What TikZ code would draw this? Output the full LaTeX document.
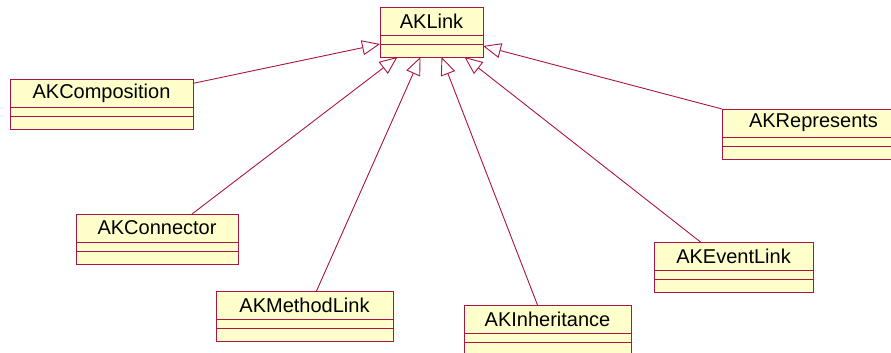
\documentclass[tikz,border=0pt]{standalone}
\usepackage{fontspec}
\setmainfont{Liberation Sans}
\usetikzlibrary{positioning,arrows.meta}
\definecolor{akred}{RGB}{170,20,70}
\definecolor{akfill}{RGB}{255,255,204}
\tikzset{
  cls/.style={draw=akred, fill=akfill, line width=0.9pt, inner sep=0pt, outer sep=0pt,
    anchor=north west, minimum height=28pt, font=\fontsize{20}{24}\selectfont},
  attr/.style={draw=akred, fill=akfill, line width=0.9pt, inner sep=0pt, outer sep=0pt,
    minimum height=9pt},
  ops/.style={attr, minimum height=13pt},
  inh/.style={draw=akred, line width=0.9pt, -{Triangle[open, length=18pt, width=15pt]}}
}
\begin{document}
\begin{tikzpicture}[x=1pt, y=-1pt]
\useasboundingbox (0,0) rectangle (891,353);
\clip (0,0) rectangle (891,353);
% base class
\node[cls, minimum width=103pt] (linkname) at (380,7) {AKLink};
\node[attr, minimum width=103pt, below=0pt of linkname] (linkattr) {};
\node[ops, minimum width=103pt, below=0pt of linkattr] (linkops) {};
% sub classes
\node[cls, minimum width=183pt] (compname) at (10,79) {AKComposition};
\node[attr, minimum width=183pt, below=0pt of compname] (compattr) {};
\node[ops, minimum width=183pt, below=0pt of compattr] (compops) {};
\node[cls, minimum width=162pt] (connname) at (76,214) {AKConnector};
\node[attr, minimum width=162pt, below=0pt of connname] (connattr) {};
\node[ops, minimum width=162pt, below=0pt of connattr] (connops) {};
\node[cls, minimum width=177pt] (methname) at (216,291) {AKMethodLink};
\node[attr, minimum width=177pt, below=0pt of methname] (methattr) {};
\node[ops, minimum width=177pt, below=0pt of methattr] (methops) {};
\node[cls, minimum width=167pt] (inhname) at (464,305) {AKInheritance};
\node[attr, minimum width=167pt, below=0pt of inhname] (inhattr) {};
\node[ops, minimum width=167pt, below=0pt of inhattr] (inhops) {};
\node[cls, minimum width=159pt] (eventname) at (654,242) {AKEventLink};
\node[attr, minimum width=159pt, below=0pt of eventname] (eventattr) {};
\node[ops, minimum width=159pt, below=0pt of eventattr] (eventops) {};
\node[cls, minimum width=183pt, text width=150pt, align=center] (repname) at (722,109) {AKRepresents};
\node[attr, minimum width=183pt, below=0pt of repname] (repattr) {};
\node[ops, minimum width=183pt, below=0pt of repattr] (repops) {};
% generalizations
\draw[inh] (compname.6) -- (linkops.north west);
\draw[inh] ([xshift=35pt]connname.north) -- ([xshift=-34pt]linkops.south);
\draw[inh] ([xshift=12pt]methname.north) -- ([xshift=-11pt]linkops.south);
\draw[inh] ([xshift=-10pt]inhname.north) -- ([xshift=10pt]linkops.south);
\draw[inh] ([xshift=-33pt]eventname.north) -- ([xshift=33pt]linkops.south);
\draw[inh] (repname.north west) -- ([yshift=-2pt]linkops.north east);
\end{tikzpicture}
\end{document}
